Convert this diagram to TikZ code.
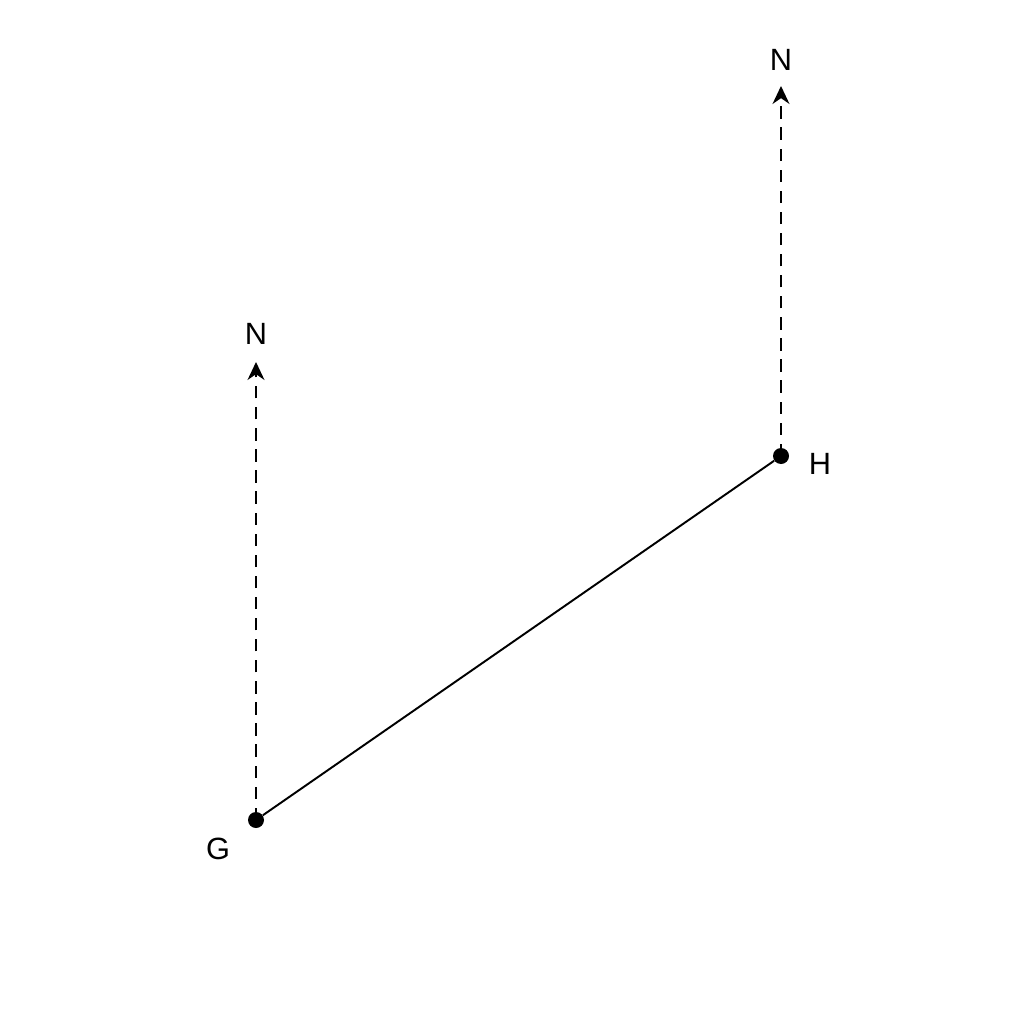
\documentclass[tikz,border=0pt]{standalone}
\usepackage{fontspec}
\setmainfont{Liberation Sans}
\usetikzlibrary{arrows.meta}
\begin{document}
\begin{tikzpicture}[x=0.02cm,y=-0.02cm,
  pt/.style={circle,fill=black,inner sep=0pt,minimum size=0.32cm},
  lbl/.style={font=\fontsize{17.5}{20}\selectfont,inner sep=0pt},
  north/.style={dashed,line width=0.9pt,dash pattern=on 7pt off 5pt,-{Stealth[length=0.36cm,width=0.34cm]}},
  seg/.style={line width=1.1pt}]
\useasboundingbox (0,0) rectangle (1024,1024);
\node[pt] (G) at (256,820) {};
\node[pt] (H) at (781,456) {};
\coordinate (NG) at (256,362);
\coordinate (NH) at (781,86);
\node[lbl] (nG) at (256,334) {N};
\node[lbl] (nH) at (781,60) {N};
\node[lbl] (lG) at (218,849) {G};
\node[lbl] (lH) at (820,464) {H};
\draw[north] (G.center) -- (NG);
\draw[north] (H.center) -- (NH);
\draw[seg] (G) -- (H);
\end{tikzpicture}
\end{document}
